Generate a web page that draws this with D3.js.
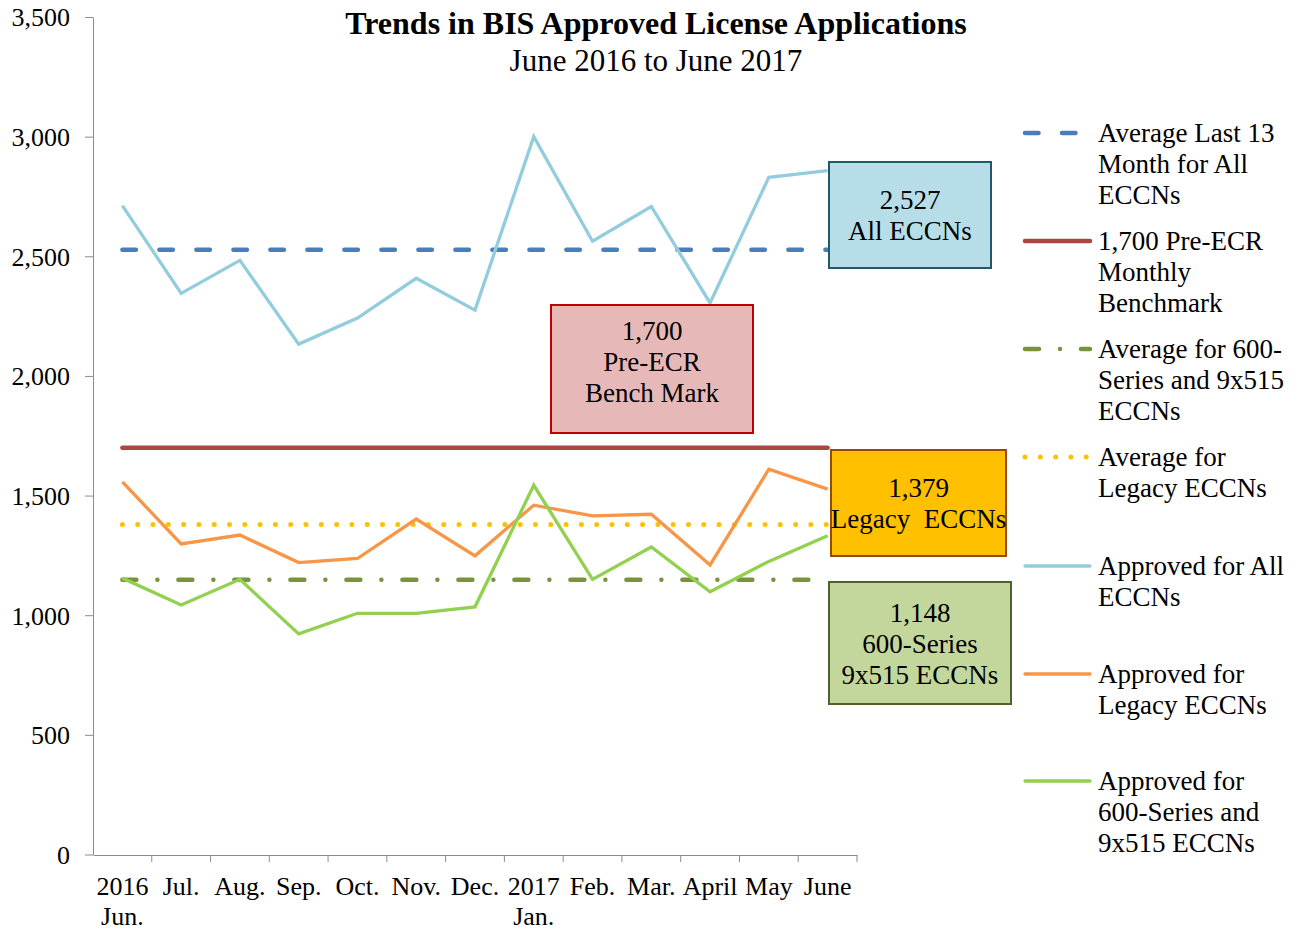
<!DOCTYPE html>
<html>
<head>
<meta charset="utf-8">
<script src="https://cdn.jsdelivr.net/npm/d3@7"></script>
<style>
  body { margin: 0; background: #fff; }
  svg text { font-family: "Liberation Serif", "Times New Roman", serif; fill: #000; }
</style>
</head>
<body>
<svg id="chart" width="1295" height="930"></svg>
<script>
// months on the x axis (second line under the label where Excel wrapped it)
const months = ["2016 Jun.", "Jul.", "Aug.", "Sep.", "Oct.", "Nov.", "Dec.", "2017 Jan.", "Feb.", "Mar.", "April", "May", "June"];
const monthLines = [["2016", "Jun."], ["Jul."], ["Aug."], ["Sep."], ["Oct."], ["Nov."], ["Dec."], ["2017", "Jan."], ["Feb."], ["Mar."], ["April"], ["May"], ["June"]];

const allEccns = [2712, 2345, 2483, 2133, 2242, 2408, 2275, 3000, 2563, 2708, 2305, 2830, 2858];
const legacyEccns = [1557, 1298, 1335, 1220, 1237, 1402, 1248, 1460, 1415, 1422, 1210, 1610, 1527];
const series600 = [1155, 1043, 1150, 922, 1008, 1008, 1035, 1543, 1150, 1285, 1098, 1225, 1332];

const avgAll = 2527;
const benchmark = 1700;
const avgLegacy = 1379;
const avg600 = 1148;

const yTicks = [0, 500, 1000, 1500, 2000, 2500, 3000, 3500];

const svg = d3.select("#chart");
const margin = { top: 17, left: 93, bottom: 75, right: 438 };
const width = 1295, height = 930;
const iwidth = width - margin.left - margin.right;
const iheight = height - margin.top - margin.bottom;

const g = svg.append("g").attr("transform", `translate(${margin.left},${margin.top})`);

const x = d3.scaleBand().domain(months).range([0, iwidth]).padding(0);
const y = d3.scaleLinear().domain([0, 3500]).range([iheight - 0.5, 0]);
const cx = m => x(m) + x.bandwidth() / 2;

// axes
const yAxis = g.append("g").call(d3.axisLeft(y).tickValues(yTicks).tickFormat(d3.format(",")).tickSize(8).tickSizeOuter(0));
yAxis.select(".domain").attr("stroke", "#8c8c8c");
yAxis.selectAll(".tick line").attr("stroke", "#8c8c8c");
yAxis.selectAll(".tick text").attr("x", -23).attr("dy", "0.34em").style("font-size", "26px");

const xAxis = g.append("g").attr("transform", `translate(0,${iheight})`)
  .call(d3.axisBottom(x).tickValues([]).tickSizeOuter(0));
xAxis.select(".domain").attr("stroke", "#8c8c8c");
// tick marks at band boundaries
xAxis.selectAll("line.bound").data(months).enter().append("line")
  .attr("class", "bound")
  .attr("x1", d => x(d) + x.bandwidth()).attr("x2", d => x(d) + x.bandwidth())
  .attr("y1", 0).attr("y2", 7).attr("stroke", "#8c8c8c");
xAxis.selectAll("text.lbl").data(months).enter().append("text")
  .attr("class", "lbl")
  .attr("text-anchor", "middle")
  .style("font-size", "26px")
  .attr("transform", d => `translate(${cx(d)},0)`)
  .selectAll("tspan").data((d, i) => monthLines[i]).enter().append("tspan")
  .attr("x", 0).attr("y", (d, i) => 40 + i * 30).text(d => d);

// horizontal reference lines
const first = cx(months[0]), last = cx(months[months.length - 1]);
function hline(v, color, w, dash, cap) {
  g.append("path")
    .attr("d", d3.line()([[first, y(v)], [last, y(v)]]))
    .attr("stroke", color).attr("stroke-width", w).attr("fill", "none")
    .attr("stroke-dasharray", dash).attr("stroke-linecap", cap);
}
hline(avgAll, "#4a7ebb", 4.5, "13.5,23.5", "round");
hline(benchmark, "#a94743", 4.5, null, "round");
hline(avgLegacy, "#ffc000", 5, "0,15.3", "round");
hline(avg600, "#77933c", 4.5, "14,21,0,21", "round");

// data lines
const line = d3.line().x((d, i) => cx(months[i])).y(d => y(d));
[[allEccns, "#93cddd"], [legacyEccns, "#f79646"], [series600, "#92d050"]].forEach(([data, color]) => {
  g.append("path").datum(data).attr("d", line)
    .attr("fill", "none").attr("stroke", color).attr("stroke-width", 3.3).attr("stroke-linejoin", "miter");
});

// callout boxes (absolute page coordinates)
const boxes = [
  { x: 829, y: 162, w: 162, h: 106, dy: 0, fill: "#b7dee8", stroke: "#215968", lines: ["2,527", "All ECCNs"] },
  { x: 551, y: 305, w: 202, h: 128, dy: -7, fill: "#e6b9b8", stroke: "#c00000", lines: ["1,700", "Pre-ECR", "Bench Mark"] },
  { x: 831, y: 450, w: 175, h: 106, dy: 0, fill: "#ffc000", stroke: "#984807", lines: ["1,379", "Legacy  ECCNs"] },
  { x: 829, y: 582, w: 182, h: 122, dy: 1, fill: "#c3d69b", stroke: "#4f6228", lines: ["1,148", "600-Series", "9x515 ECCNs"] }
];
const bg = svg.append("g");
boxes.forEach(b => {
  bg.append("rect").attr("x", b.x).attr("y", b.y).attr("width", b.w).attr("height", b.h)
    .attr("fill", b.fill).attr("stroke", b.stroke).attr("stroke-width", 2);
  const t = bg.append("text").attr("text-anchor", "middle").style("font-size", "27px")
    .style("white-space", "pre");
  const top = b.y + b.h / 2 - (b.lines.length - 1) * 15.5 + 9 + b.dy;
  b.lines.forEach((l, i) => {
    t.append("tspan").attr("x", b.x + b.w / 2).attr("y", top + i * 31).text(l);
  });
});

// title
svg.append("text").attr("x", 656).attr("y", 34).attr("text-anchor", "middle")
  .style("font-size", "32px").style("font-weight", "bold").text("Trends in BIS Approved License Applications");
svg.append("text").attr("x", 656).attr("y", 71).attr("text-anchor", "middle")
  .style("font-size", "31px").text("June 2016 to June 2017");

// legend
const legend = [
  { lines: ["Average Last 13", "Month for All", "ECCNs"], color: "#4a7ebb", dash: "13.5,23.5", w: 4.5, y: 133 },
  { lines: ["1,700 Pre-ECR", "Monthly", "Benchmark"], color: "#a94743", dash: null, w: 4.5, y: 241 },
  { lines: ["Average for 600-", "Series and 9x515", "ECCNs"], color: "#77933c", dash: "14,21,0,21", w: 4.5, y: 349 },
  { lines: ["Average for", "Legacy ECCNs"], color: "#ffc000", dash: "0,15.3", w: 5, y: 457 },
  { lines: ["Approved for All", "ECCNs"], color: "#93cddd", dash: null, w: 3.3, y: 566 },
  { lines: ["Approved for", "Legacy ECCNs"], color: "#f79646", dash: null, w: 3.3, y: 674 },
  { lines: ["Approved for", "600-Series and", "9x515 ECCNs"], color: "#92d050", dash: null, w: 3.3, y: 781 }
];
const lg = svg.append("g");
legend.forEach(e => {
  lg.append("line").attr("x1", 1025).attr("x2", 1090).attr("y1", e.y).attr("y2", e.y)
    .attr("stroke", e.color).attr("stroke-width", e.w).attr("stroke-dasharray", e.dash)
    .attr("stroke-linecap", "round");
  const t = lg.append("text").style("font-size", "27px");
  e.lines.forEach((l, i) => t.append("tspan").attr("x", 1098).attr("y", e.y + 9 + i * 31).text(l));
});
</script>
</body>
</html>
